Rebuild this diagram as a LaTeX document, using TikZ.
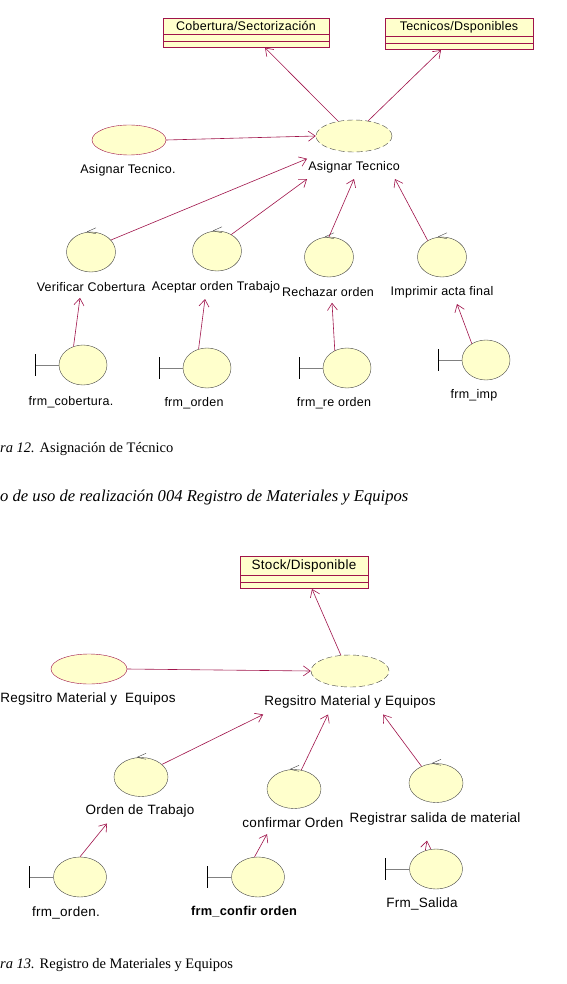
\documentclass[tikz,border=0pt]{standalone}
\usepackage{fontspec}
\setmainfont{Liberation Serif}
\newfontfamily\rosefont[LetterSpace=2]{Liberation Sans}
\usetikzlibrary{arrows.meta,shapes.geometric,shapes.multipart}
\definecolor{roseFill}{RGB}{255,255,204}
\definecolor{roseLine}{RGB}{160,20,75}
\definecolor{roseGray}{RGB}{70,70,70}
\tikzset{
  classbox/.style={rectangle split, rectangle split parts=3, draw=roseLine, fill=roseFill, line width=0.6pt, rectangle split empty part height=1pt, inner ysep=3pt, inner xsep=0pt, align=center, anchor=north},
  usecase/.style={ellipse, draw=roseLine, fill=roseFill, thin, inner sep=0pt},
  entity/.style={ellipse, draw=roseGray, dash pattern=on 6pt off 3pt, fill=roseFill, thin, inner sep=0pt},
  control/.style={ellipse, draw=roseGray, fill=roseFill, thin, inner sep=0pt},
  boundary/.style={ellipse, draw=roseGray, fill=roseFill, thin, inner sep=0pt},
  lbl/.style={inner xsep=1pt, inner ysep=6pt},
  link/.style={draw=roseLine, line width=0.6pt, -{Straight Barb[length=7pt,width=10pt]}},
  caption/.style={anchor=base west, inner sep=0pt, font=\fontsize{14.5}{17}\selectfont}
}

\begin{document}
\begin{tikzpicture}[x=1pt, y=1pt, font=\rosefont\fontsize{12.5}{14}\selectfont]
  \fill[white] (0,0) rectangle (566,-984);
  \useasboundingbox (0,0) rectangle (566,-984);

  % Asignacion de tecnico
  \node[classbox, text width=166pt] (cob) at (246,-18) {Cobertura/Sectorización\nodepart{two}\nodepart{three}};
  \node[classbox, text width=148pt] (tec) at (459,-18) {Tecnicos/Dsponibles\nodepart{two}\nodepart{three}};
  \node[usecase, minimum width=74pt, minimum height=30pt] (asigU) at (129,-140) {};
  \node[lbl] (asigUL) at (128,-170) {Asignar Tecnico.};
  \node[entity, minimum width=76pt, minimum height=32pt] (asig) at (354,-136) {};
  \node[lbl] (asigL) at (354,-167) {Asignar Tecnico};

  \node[control, minimum width=49pt, minimum height=40pt] (ver) at (91,-252) {};
  \node[lbl] (verL) at (91,-287) {Verificar Cobertura};
  \node[control, minimum width=49pt, minimum height=40pt] (acep) at (217,-251) {};
  \node[lbl] (acepL) at (216,-287) {Aceptar orden Trabajo};
  \node[control, minimum width=49pt, minimum height=40pt] (rech) at (329,-257) {};
  \node[lbl] (rechL) at (328,-292) {Rechazar orden};
  \node[control, minimum width=49pt, minimum height=40pt] (imp) at (442,-257) {};
  \node[lbl] (impL) at (442,-292) {Imprimir acta final};

  \node[boundary, minimum width=48pt, minimum height=40pt] (frmCob) at (83,-365) {};
  \node[lbl] (frmCobL) at (71,-402) {frm\_cobertura.};
  \node[boundary, minimum width=48pt, minimum height=40pt] (frmOrd) at (207,-368) {};
  \node[lbl] (frmOrdL) at (194,-403) {frm\_orden};
  \node[boundary, minimum width=48pt, minimum height=40pt] (frmRe) at (347,-368) {};
  \node[lbl] (frmReL) at (334,-403) {frm\_re orden};
  \node[boundary, minimum width=48pt, minimum height=40pt] (frmImp) at (486,-360) {};
  \node[lbl] (frmImpL) at (474,-395) {frm\_imp};

  \draw[link] (asig.137) -- ([xshift=19pt]cob.south);
  \draw[link] (asig.47) -- ([xshift=-18pt]tec.south);
  \draw[link] (asigU.east) -- (asig.west);
  \draw[link] (ver.31) -- (asigL.170);
  \draw[link] (acep.49) -- (asigL.south west);
  \draw[link] (rech.north) -- (asigL.south);
  \draw[link] (imp.131) -- ([xshift=-6pt]asigL.south east);
  \draw[link] (frmCob.117) -- ([xshift=-11pt]verL.south);
  \draw[link] (frmOrd.114) -- ([xshift=-11pt]acepL.south);
  \draw[link] (frmRe.125) -- ([xshift=4pt]rechL.south);
  \draw[link] (frmImp.131) -- ([xshift=15pt]impL.south);

  \node[caption] (cap12) at (0,-452) {\textit{ra 12.} Asignación de Técnico};
  \node[caption, font=\itshape\fontsize{16.6}{19}\selectfont] (head) at (0,-501) {o de uso de realización 004 Registro de Materiales y Equipos};

  % Registro de materiales y equipos
  \begin{scope}[font=\rosefont\fontsize{13.5}{16}\selectfont]
  \node[classbox, text width=128pt] (stock) at (304,-556) {Stock/Disponible\nodepart{two}\nodepart{three}};
  \node[usecase, minimum width=76pt, minimum height=30pt] (regU) at (89,-669) {};
  \node[lbl] (regUL) at (88,-699) {Regsitro Material y~ Equipos};
  \node[entity, minimum width=78pt, minimum height=32pt] (reg) at (350,-671) {};
  \node[lbl] (regL) at (350,-702) {Regsitro Material y Equipos};

  \node[control, minimum width=54pt, minimum height=39pt] (ordT) at (141,-777) {};
  \node[lbl] (ordTL) at (140,-811) {Orden de Trabajo};
  \node[control, minimum width=54pt, minimum height=39pt] (confO) at (294,-789) {};
  \node[lbl] (confOL) at (293,-823) {confirmar Orden};
  \node[control, minimum width=54pt, minimum height=39pt] (regS) at (436,-783) {};
  \node[lbl] (regSL) at (435,-819) {Registrar salida de material};

  \node[boundary, minimum width=53pt, minimum height=40pt] (frmOrdB) at (80,-877) {};
  \node[lbl] (frmOrdBL) at (66,-913) {frm\_orden.};
  \node[boundary, minimum width=53pt, minimum height=40pt] (frmConf) at (258,-877) {};
  \node[lbl, font=\rosefont\bfseries\fontsize{12.8}{15}\selectfont] (frmConfL) at (244,-912) {frm\_confir orden};
  \node[boundary, minimum width=53pt, minimum height=40pt] (frmSal) at (436,-869) {};
  \node[lbl] (frmSalL) at (422,-904) {Frm\_Salida};
  \end{scope}

  \draw[link] (reg.120) -- ([xshift=8pt]stock.south);
  \draw[link] (regU.east) -- (reg.west);
  \draw[link] (ordT.31) -- (regL.south west);
  \draw[link] (confO.69) -- ([xshift=-22pt]regL.south);
  \draw[link] (regS.131) -- ([xshift=33pt]regL.south);
  \draw[link] (frmOrdB.north) -- ([xshift=-33pt]ordTL.south);
  \draw[link] (frmConf.100) -- ([xshift=-26pt]confOL.south);
  \draw[link] (frmSal.120) -- ([xshift=-8pt,yshift=-9pt]regSL.south);

  \node[caption] (cap13) at (0,-968) {\textit{ra 13.} Registro de Materiales y Equipos};

  % control and boundary marks
  \foreach \c in {ver,acep,rech,imp,ordT,confO,regS}
    \draw[roseGray] ([xshift=-4pt]\c.north) -- ++(9pt,4pt) ([xshift=-4pt]\c.north) -- ++(9pt,-2pt);
  \foreach \b in {frmCob,frmOrd,frmRe,frmImp,frmOrdB,frmConf,frmSal} {
    \draw[gray] (\b.west) -- ++(-24pt,0);
    \draw[black, semithick] ([xshift=-24pt,yshift=11pt]\b.west) -- ++(0,-22pt);
  }
\end{tikzpicture}
\end{document}
